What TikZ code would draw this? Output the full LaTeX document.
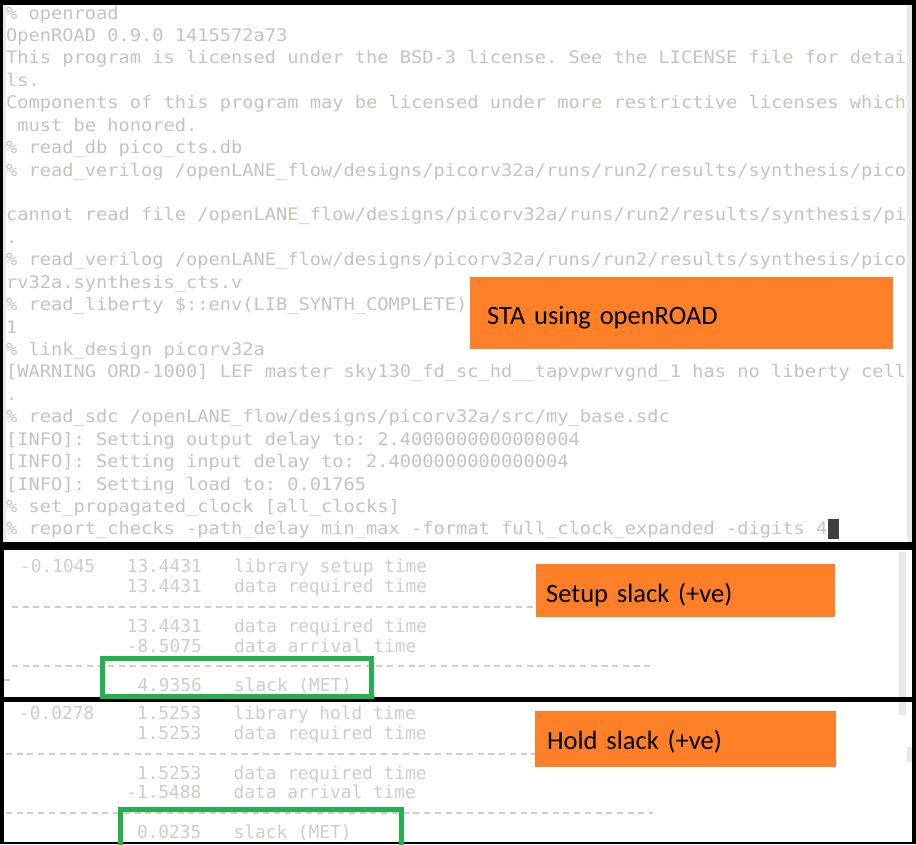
\documentclass[tikz,border=0pt]{standalone}
\usepackage{fontspec}
\newfontfamily\termfont[FakeStretch=1.08]{DejaVu Sans Mono}
\newfontfamily\repfont{DejaVu Sans Mono}
\newfontfamily\calfont{Carlito}
\definecolor{termgray}{RGB}{196,196,190}
\definecolor{repgray}{RGB}{206,206,200}
\definecolor{tagorange}{RGB}{253,127,39}
\definecolor{metgreen}{RGB}{34,177,76}
\definecolor{bargray}{RGB}{234,234,234}
\definecolor{cursorgray}{RGB}{62,64,62}

\begin{document}
\begin{tikzpicture}[x=1pt,y=-1pt,
    term/.style={anchor=base west,inner sep=0pt,text=termgray,
                 font=\termfont\fontsize{17.3}{20}\selectfont\frenchspacing},
    rep/.style={anchor=base west,inner sep=0pt,text=repgray,
                font=\repfont\fontsize{17.8}{20}\selectfont\frenchspacing},
    repnum/.style={rep,anchor=base east},
    tagbox/.style={anchor=base west,fill=tagorange,draw=none,inner ysep=0pt,
                   align=left,text=black,font=\calfont\fontsize{26.5}{30}\selectfont},
    dashrow/.style={draw=repgray,line width=1.3pt,dash pattern=on 6pt off 4.72pt},
    metbox/.style={draw=metgreen,line width=4.6pt}]

  \useasboundingbox (0,0) rectangle (916,844);
  \fill[black] (0,0) rectangle (916,844);
  \fill[white] (3,5) rectangle (912,542);
  \fill[white] (4,550) rectangle (912,697);
  \fill[white] (4,702) rectangle (912,842);
  \fill[bargray] (3,5) rectangle (6,542);
  \fill[bargray] (907,5) rectangle (912,542);
  \fill[bargray] (899,552) rectangle (906,697);
  \fill[bargray] (899,702) rectangle (906,715);
  \fill[bargray] (907,747) rectangle (912,762);

  \node[term] (L1)  at (6,19.0)  {\% openroad};
  \node[term] (L2)  at (6,41.4)  {OpenROAD 0.9.0 1415572a73};
  \node[term] (L3)  at (6,63.9)  {This program is licensed under the BSD-3 license. See the LICENSE file for detai};
  \node[term] (L4)  at (6,86.3)  {ls.};
  \node[term] (L5)  at (6,108.7) {Components of this program may be licensed under more restrictive licenses which};
  \node[term] (L6)  at (17.25,131.2) {must be honored.};
  \node[term] (L7)  at (6,153.6) {\% read\_db pico\_cts.db};
  \node[term] (L8)  at (6,176.0) {\% read\_verilog /openLANE\_flow/designs/picorv32a/runs/run2/results/synthesis/pico};
  \node[term] (L10) at (6,220.9) {cannot read file /openLANE\_flow/designs/picorv32a/runs/run2/results/synthesis/pi};
  \node[term] (L11) at (6,243.3) {.};
  \node[term] (L12) at (6,265.7) {\% read\_verilog /openLANE\_flow/designs/picorv32a/runs/run2/results/synthesis/pico};
  \node[term] (L13) at (6,288.2) {rv32a.synthesis\_cts.v};
  \node[term] (L14) at (6,310.6) {\% read\_liberty \$::env(LIB\_SYNTH\_COMPLETE)};
  \node[term] (L15) at (6,333.0) {1};
  \node[term] (L16) at (6,355.5) {\% link\_design picorv32a};
  \node[term] (L17) at (6,377.9) {[WARNING ORD-1000] LEF master sky130\_fd\_sc\_hd\_\_tapvpwrvgnd\_1 has no liberty cell};
  \node[term] (L18) at (6,400.3) {.};
  \node[term] (L19) at (6,422.7) {\% read\_sdc /openLANE\_flow/designs/picorv32a/src/my\_base.sdc};
  \node[term] (L20) at (6,445.2) {[INFO]: Setting output delay to: 2.4000000000000004};
  \node[term] (L21) at (6,467.6) {[INFO]: Setting input delay to: 2.4000000000000004};
  \node[term] (L22) at (6,490.0) {[INFO]: Setting load to: 0.01765};
  \node[term] (L23) at (6,512.5) {\% set\_propagated\_clock [all\_clocks]};
  \node[term] (L24) at (6,534.9) {\% report\_checks -path\_delay min\_max -format full\_clock\_expanded -digits 4};
  \fill[cursorgray] (828,519) rectangle (839,539);

  \node[rep]    (S1a) at (20,572)  {-0.1045};
  \node[repnum] (S1b) at (202,572) {13.4431};
  \node[rep]    (S1c) at (234,572) {library setup time};
  \node[repnum] (S2b) at (202,592) {13.4431};
  \node[rep]    (S2c) at (234,592) {data required time};
  \node[repnum] (S3b) at (202,632) {13.4431};
  \node[rep]    (S3c) at (234,632) {data required time};
  \node[repnum] (S4b) at (202,652) {-8.5075};
  \node[rep]    (S4c) at (234,652) {data arrival time};
  \node[repnum] (S5b) at (202,691) {4.9356};
  \node[rep]    (S5c) at (234,691) {slack (MET)};
  \draw[dashrow] (12,607) -- (653,607);
  \draw[dashrow] (12,666) -- (653,666);
  \draw[repgray,line width=1.3pt] (4,680) -- (10,680);

  \node[rep]    (H1a) at (19,719)  {-0.0278};
  \node[repnum] (H1b) at (201.5,719) {1.5253};
  \node[rep]    (H1c) at (233.5,719) {library hold time};
  \node[repnum] (H2b) at (201.5,739) {1.5253};
  \node[rep]    (H2c) at (233.5,739) {data required time};
  \node[repnum] (H3b) at (201.5,779) {1.5253};
  \node[rep]    (H3c) at (233.5,779) {data required time};
  \node[repnum] (H4b) at (201.5,798) {-1.5488};
  \node[rep]    (H4c) at (233.5,798) {data arrival time};
  \node[repnum] (H5b) at (201.5,838) {0.0235};
  \node[rep]    (H5c) at (233.5,838) {slack (MET)};
  \draw[dashrow] (6,754) -- (653,754);
  \draw[dashrow] (6,813) -- (653,813);

  \node[tagbox,inner xsep=17pt,text width=389pt,text height=47pt,text depth=25pt] (sta) at (470,324) {STA using openROAD};
  \node[tagbox,inner xsep=10pt,text width=279pt,text height=38pt,text depth=15pt] (setup) at (536,602) {Setup slack (+ve)};
  \node[tagbox,inner xsep=12pt,text width=277pt,text height=38pt,text depth=18pt] (hold) at (535,749) {Hold slack (+ve)};

  \draw[metbox] (102.3,658.3) rectangle (371.7,696.7);
  \draw[metbox] (120.3,809.3) rectangle (401.7,848);
\end{tikzpicture}
\end{document}
